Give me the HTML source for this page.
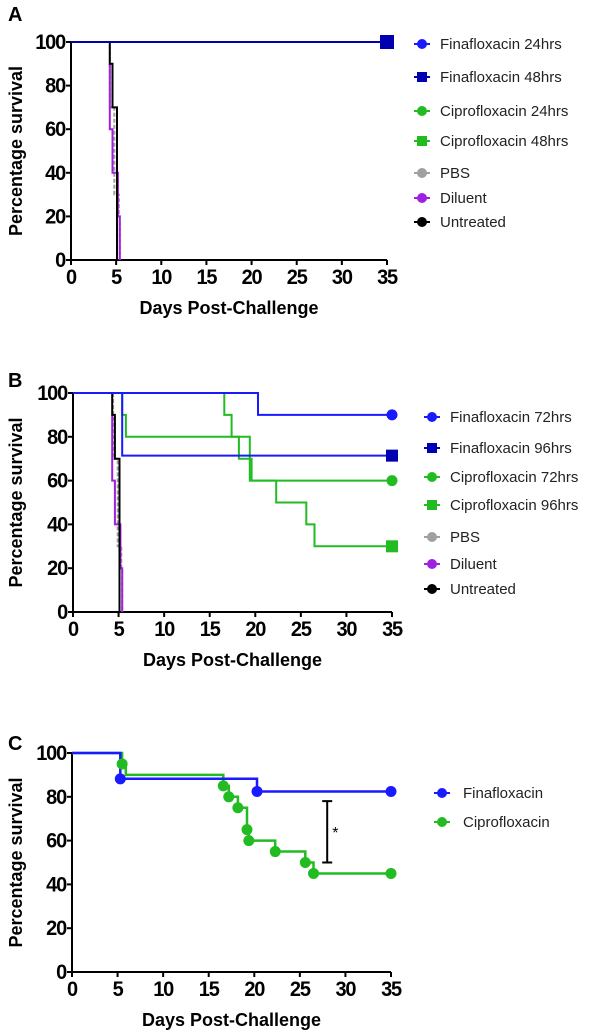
<!DOCTYPE html>
<html><head><meta charset="utf-8"><style>
html,body{margin:0;padding:0;background:#fff}
svg{display:block}
text{font-family:"Liberation Sans",Arial,sans-serif}
.tick{font-size:20px;font-weight:bold;letter-spacing:-1.2px}
.title{font-size:18px;font-weight:bold}
.leg{font-size:15px;fill:#222}
</style></head><body>
<svg id="fig" width="600" height="1036" viewBox="0 0 600 1036" xmlns="http://www.w3.org/2000/svg"></svg>
<script>
// ---- data ----
const xTicks = [0,5,10,15,20,25,30,35];
const yTicks = [0,20,40,60,80,100];
// Panel A series: [day, survival] step points
const aFin24 = [[0,100],[35,100]];
const aFin48 = [[0,100],[35,100]];
const aPBS = [[0,100],[4.3,100],[4.3,70],[4.8,70],[4.8,30],[5.3,30],[5.3,20],[5.4,20],[5.4,0]];
const aDiluent = [[4.3,90],[4.3,60],[4.6,60],[4.6,40],[5.2,40],[5.2,20],[5.4,20],[5.4,0]];
const aUntreated = [[4.3,100],[4.3,90],[4.6,90],[4.6,70],[5.1,70],[5.1,0]];
// Panel B
const bFin72 = [[0,100],[20.3,100],[20.3,90],[35,90]];
const bFin96 = [[0,100],[5.4,100],[5.4,71.4],[35,71.4]];
const bCip72 = [[5.4,100],[5.4,90],[5.8,90],[5.8,80],[18.2,80],[18.2,70],[19.4,70],[19.4,60],[35,60]];
const bCip96 = [[16.6,100],[16.6,90],[17.4,90],[17.4,80],[19.4,80],[19.4,70],[19.6,70],[19.6,60],[22.3,60],[22.3,50],[25.6,50],[25.6,40],[26.5,40],[26.5,30],[35,30]];
const bPBS = [[4.4,100],[4.4,70],[4.9,70],[4.9,30],[5.3,30],[5.3,20],[5.4,20],[5.4,0]];
const bDiluent = [[4.3,90],[4.3,60],[4.6,60],[4.6,40],[5.2,40],[5.2,20],[5.4,20],[5.4,0]];
const bUntreated = [[4.3,100],[4.3,90],[4.6,90],[4.6,70],[5.1,70],[5.1,0]];
// Panel C
const cFinDays = [0,5.3,20.3,35];
const cFinSurv = [100,88.2,82.4,82.4];
const cFinMarks = [[5.3,88.2],[20.3,82.4],[35,82.4]];
const cCipDays = [0,5.5,5.9,16.6,17.2,18.2,19.2,19.4,22.3,25.6,26.5,35];
const cCipSurv = [100,95,90,85,80,75,65,60,55,50,45,45];
const cCipMarks = [[5.5,95],[16.6,85],[17.2,80],[18.2,75],[19.2,65],[19.4,60],[22.3,55],[25.6,50],[26.5,45],[35,45]];
const cSigBar = [28,50,78];

const BLUE='#1a1aff', DBLUE='#0000b0', GREEN='#22bb22', GRAY='#a0a0a0', PURPLE='#a020e0', BLACK='#000';
const svg=document.getElementById('fig');
const NS='http://www.w3.org/2000/svg';
function el(tag,attrs,parent){const e=document.createElementNS(NS,tag);for(const k in attrs)e.setAttribute(k,attrs[k]);(parent||svg).appendChild(e);return e;}

function panel(p){
  const g=el('g',{});
  
  
  const sx=v=>p.x0+(p.x1-p.x0)*v/35, sy=v=>p.y0+(p.y1-p.y0)*v/100;
  p.sx=sx;p.sy=sy;p.g=g;
  const lab=el('text',{x:8,y:p.labY,'font-size':'20','font-weight':'bold'},g);lab.textContent=p.id.toUpperCase();
  
  
  const ax=el('path',{d:`M${p.x0} ${p.y1}V${p.y0}H${p.x1}`,stroke:'#000','stroke-width':2,fill:'none'},g);
  
  
  xTicks.forEach(t=>{
    el('line',{x1:sx(t),x2:sx(t),y1:p.y0,y2:p.y0+5,stroke:'#000','stroke-width':2},g);
    const tx=el('text',{x:sx(t),y:p.y0+24,'text-anchor':'middle',class:'tick',transform:`translate(0 ${-(p.y0+24)*0.08}) scale(1 1.08)`},g);tx.textContent=t;
    
    
  });
  yTicks.forEach(t=>{
    el('line',{x1:p.x0-5,x2:p.x0,y1:sy(t),y2:sy(t),stroke:'#000','stroke-width':2},g);
    const yy=sy(t)+7;
    const tx=el('text',{x:p.x0-6,y:yy,'text-anchor':'end',class:'tick',transform:`translate(0 ${-yy*0.08}) scale(1 1.08)`},g);tx.textContent=t;
    
    
  });
  const xt=el('text',{x:(p.x0+p.x1)/2,y:p.y0+54,'text-anchor':'middle',class:'title'},g);xt.textContent='Days Post-Challenge';
  
  
  const cy=(p.y0+p.y1)/2;
  const yt=el('text',{x:22,y:cy,'text-anchor':'middle',class:'title',transform:`rotate(-90 22 ${cy})`},g);yt.textContent='Percentage survival';
  
  
  return p;
}
function line(p,pts,color,name,dash,w){
  const d=pts.map((q,i)=>(i?'L':'M')+p.sx(q[0]).toFixed(1)+' '+p.sy(q[1]).toFixed(1)).join('');
  const e=el('path',{d,stroke:color,'stroke-width':w||2,fill:'none'},p.g);
  if(dash)e.setAttribute('stroke-dasharray',dash);
  
  
}
function marker(g,x,y,color,shape,r,name){
  let e;
  if(shape==='sq') e=el('rect',{x:x-r,y:y-r,width:2*r,height:2*r,fill:color},g);
  else e=el('circle',{cx:x,cy:y,r:r,fill:color},g);
  
  
}
function legend(g,x,tx,rows){
  rows.forEach(r=>{
    const lg=el('g',{},g);
    
    
    el('line',{x1:x-8,x2:x+8,y1:r[0],y2:r[0],stroke:r[2],'stroke-width':2},lg);
    marker(lg,x,r[0],r[2],r[3],5,'legend-symbol');
    const t=el('text',{x:tx,y:r[0]+5,class:'leg'},lg);t.textContent=r[1];
  });
}

const PA=panel({id:'a',x0:71,x1:387,y0:260,y1:42,labY:21});
line(PA,aPBS,GRAY,'series-pbs','4 2');
line(PA,aDiluent,PURPLE,'series-diluent');
line(PA,aUntreated,BLACK,'series-untreated');
line(PA,aFin24,BLUE,'series-fin-24hrs');
line(PA,aFin48,DBLUE,'series-fin-48hrs');
marker(PA.g,PA.sx(aFin48[1][0]),PA.sy(aFin48[1][1]),DBLUE,'sq',7,'end-marker-fin-48hrs');
legend(PA.g,422,440,[[44,'Finafloxacin 24hrs',BLUE,'c'],[77,'Finafloxacin 48hrs',DBLUE,'sq'],[111,'Ciprofloxacin 24hrs',GREEN,'c'],[141,'Ciprofloxacin 48hrs',GREEN,'sq'],[173,'PBS',GRAY,'c'],[198,'Diluent',PURPLE,'c'],[222,'Untreated',BLACK,'c']]);

const PB=panel({id:'b',x0:73,x1:392,y0:612,y1:393,labY:387});
line(PB,bPBS,GRAY,'series-pbs','4 2');
line(PB,bDiluent,PURPLE,'series-diluent');
line(PB,bUntreated,BLACK,'series-untreated');
line(PB,bCip72,GREEN,'series-cip-72hrs');
line(PB,bCip96,GREEN,'series-cip-96hrs');
line(PB,bFin72,BLUE,'series-fin-72hrs');
line(PB,bFin96,BLUE,'series-fin-96hrs');
[[bFin72,BLUE,'c'],[bFin96,DBLUE,'sq'],[bCip72,GREEN,'c'],[bCip96,GREEN,'sq']].forEach(s=>{
  const q=s[0][s[0].length-1];marker(PB.g,PB.sx(q[0]),PB.sy(q[1]),s[1],s[2],s[2]==='sq'?6:5.5,'end-marker');
});
legend(PB.g,432,450,[[417,'Finafloxacin 72hrs',BLUE,'c'],[448,'Finafloxacin 96hrs',DBLUE,'sq'],[477,'Ciprofloxacin 72hrs',GREEN,'c'],[505,'Ciprofloxacin 96hrs',GREEN,'sq'],[537,'PBS',GRAY,'c'],[564,'Diluent',PURPLE,'c'],[589,'Untreated',BLACK,'c']]);

const PC=panel({id:'c',x0:72,x1:391,y0:972,y1:753,labY:750});
function steps(days,surv){const pts=[];days.forEach((d,i)=>{if(i)pts.push([d,surv[i-1]]);pts.push([d,surv[i]]);});return pts;}
line(PC,steps(cCipDays,cCipSurv),GREEN,'series-ciprofloxacin',null,2.5);
line(PC,steps(cFinDays,cFinSurv),BLUE,'series-finafloxacin',null,2.5);
cCipMarks.forEach(q=>marker(PC.g,PC.sx(q[0]),PC.sy(q[1]),GREEN,'c',5.5,'censor-marker-cip'));
cFinMarks.forEach(q=>marker(PC.g,PC.sx(q[0]),PC.sy(q[1]),BLUE,'c',5.5,'censor-marker-fin'));
const sb=el('path',{d:`M${PC.sx(cSigBar[0])-5} ${PC.sy(cSigBar[1])}h10M${PC.sx(cSigBar[0])} ${PC.sy(cSigBar[1])}V${PC.sy(cSigBar[2])}M${PC.sx(cSigBar[0])-5} ${PC.sy(cSigBar[2])}h10`,stroke:'#000','stroke-width':2,fill:'none'},PC.g);


const st=el('text',{x:PC.sx(cSigBar[0])+5,y:PC.sy(64)+6,'font-size':'16'},PC.g);st.textContent='*';


legend(PC.g,442,463,[[793,'Finafloxacin',BLUE,'c'],[822,'Ciprofloxacin',GREEN,'c']]);
</script>
</body></html>
